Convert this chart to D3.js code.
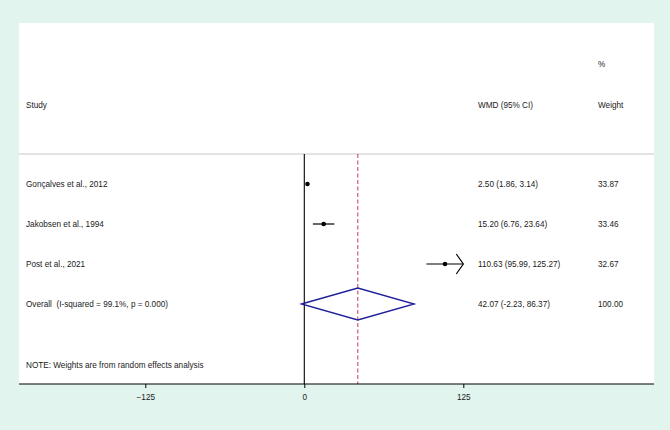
<!DOCTYPE html>
<html>
<head>
<meta charset="utf-8">
<script src="https://cdn.jsdelivr.net/npm/d3@7"></script>
<style>
  html, body { margin: 0; padding: 0; background: #e1f4ee; }
  svg { display: block; }
  text { font-family: "Liberation Sans", Arial, sans-serif; font-size: 8.2px; fill: #1a1a1a; white-space: pre; }
</style>
</head>
<body>
<svg id="chart" width="670" height="430"></svg>
<script>
// ---- data ----
const studies = ["Gonçalves et al., 2012", "Jakobsen et al., 1994", "Post et al., 2021"];
const wmd     = [2.50, 15.20, 110.63];
const ciLow   = [1.86, 6.76, 95.99];
const ciHigh  = [3.14, 23.64, 125.27];
const weights = ["33.87", "33.46", "32.67"];
const overallLabel = "Overall  (I-squared = 99.1%, p = 0.000)";
const overall = { est: 42.07, lo: -2.23, hi: 86.37, weight: "100.00" };
const tickValues = [-125, 0, 125];
const noteText = "NOTE: Weights are from random effects analysis";

// ---- layout ----
const svg = d3.select("#chart");
const W = 670, H = 430;
const plot = { left: 19, right: 654, top: 23, bottom: 384 };
const x = d3.scaleLinear().domain([-125, 125]).range([145.3, 463.3]);
const rowNames = studies.concat(["Overall"]);
const y = d3.scalePoint().domain(rowNames).range([184, 304]);
const headerY = 105, pctY = 64, sepY = 154, noteY = 365;
const colStudy = 26, colWmd = 478, colW = 598;

// background panel
svg.append("rect").attr("x", 0).attr("y", 0).attr("width", W).attr("height", H).attr("fill", "#e1f4ee");
svg.append("rect").attr("x", plot.left).attr("y", plot.top)
  .attr("width", plot.right - plot.left).attr("height", plot.bottom - plot.top).attr("fill", "#ffffff");

// headers
svg.append("text").attr("x", colW).attr("y", pctY).attr("dy", "0.35em").text("%");
svg.append("text").attr("x", colStudy).attr("y", headerY).attr("dy", "0.35em").text("Study");
svg.append("text").attr("x", colWmd).attr("y", headerY).attr("dy", "0.35em").text("WMD (95% CI)");
svg.append("text").attr("x", colW).attr("y", headerY).attr("dy", "0.35em").text("Weight");

// separator
svg.append("line").attr("x1", plot.left).attr("x2", plot.right).attr("y1", sepY).attr("y2", sepY)
  .attr("stroke", "#c8c8c8").attr("stroke-width", 1);

// null line
svg.append("line").attr("x1", x(0)).attr("x2", x(0)).attr("y1", sepY).attr("y2", plot.bottom)
  .attr("stroke", "#000").attr("stroke-width", 1.1);

// overall dashed line
svg.append("line").attr("x1", x(overall.est)).attr("x2", x(overall.est)).attr("y1", sepY).attr("y2", plot.bottom)
  .attr("stroke", "#c8375a").attr("stroke-width", 1).attr("stroke-dasharray", "4,2.5");

// study rows
const [dMin, dMax] = x.domain();
const rows = studies.map((s, i) => ({ s, est: wmd[i], lo: ciLow[i], hi: ciHigh[i], w: weights[i] }));
const g = svg.append("g");
rows.forEach(d => {
  const yy = y(d.s);
  const lo = Math.max(d.lo, dMin), hi = Math.min(d.hi, dMax);
  g.append("line").attr("x1", x(lo)).attr("x2", x(hi)).attr("y1", yy).attr("y2", yy)
    .attr("stroke", "#000").attr("stroke-width", 1.2);
  if (d.hi > dMax) {
    const tip = x(dMax);
    g.append("path").attr("d", `M${tip - 7},${yy - 10}L${tip},${yy}L${tip - 7},${yy + 10}`)
      .attr("fill", "none").attr("stroke", "#000").attr("stroke-width", 1.2);
  }
  g.append("circle").attr("cx", x(d.est)).attr("cy", yy).attr("r", 2.3).attr("fill", "#000");
  g.append("text").attr("x", colStudy).attr("y", yy).attr("dy", "0.35em").text(d.s);
  g.append("text").attr("x", colWmd).attr("y", yy).attr("dy", "0.35em")
    .text(`${d.est.toFixed(2)} (${d.lo.toFixed(2)}, ${d.hi.toFixed(2)})`);
  g.append("text").attr("x", colW).attr("y", yy).attr("dy", "0.35em").text(d.w);
});

// overall diamond
const oy = y("Overall");
svg.append("path")
  .attr("d", `M${x(overall.lo)},${oy}L${x(overall.est)},${oy - 16}L${x(overall.hi)},${oy}L${x(overall.est)},${oy + 16}Z`)
  .attr("fill", "none").attr("stroke", "#1f1f99").attr("stroke-width", 1.3);
svg.append("text").attr("x", colStudy).attr("y", oy).attr("dy", "0.35em").attr("xml:space", "preserve").text(overallLabel);
svg.append("text").attr("x", colWmd).attr("y", oy).attr("dy", "0.35em")
  .text(`${overall.est.toFixed(2)} (${overall.lo.toFixed(2)}, ${overall.hi.toFixed(2)})`);
svg.append("text").attr("x", colW).attr("y", oy).attr("dy", "0.35em").text(overall.weight);

// note
svg.append("text").attr("x", colStudy).attr("y", noteY).attr("dy", "0.35em").text(noteText);

// x axis
const axis = svg.append("g").attr("transform", `translate(0,${plot.bottom})`)
  .call(d3.axisBottom(x).tickValues(tickValues).tickSize(4).tickPadding(6).tickFormat(d3.format("d")));
axis.select(".domain").remove();
axis.selectAll("text").style("font-family", "Liberation Sans, Arial, sans-serif").style("font-size", "8.2px").attr("fill", "#1a1a1a");
axis.selectAll("line").attr("stroke", "#000");
svg.append("line").attr("x1", plot.left).attr("x2", plot.right).attr("y1", plot.bottom).attr("y2", plot.bottom)
  .attr("stroke", "#000").attr("stroke-width", 1.2);
</script>
</body>
</html>
